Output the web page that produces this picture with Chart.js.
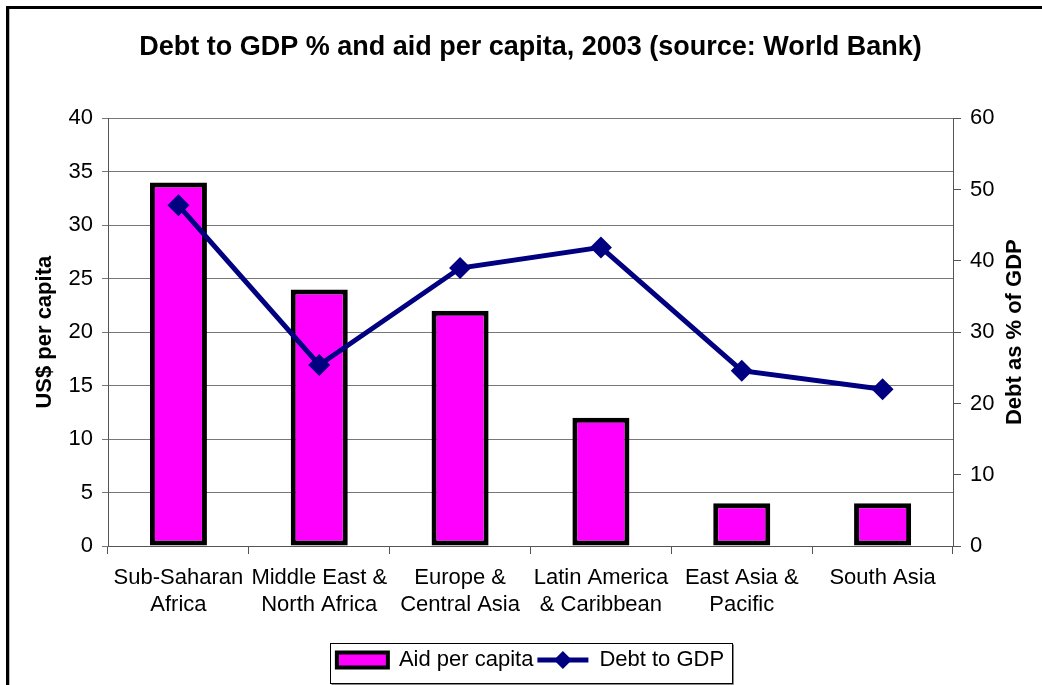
<!DOCTYPE html>
<html>
<head>
<meta charset="utf-8">
<script src="https://cdn.jsdelivr.net/npm/chart.js@4/dist/chart.umd.min.js"></script>
<style>
html,body{margin:0;padding:0;background:#fff;}
#wrap{position:relative;width:1042px;height:685px;}
</style>
</head>
<body>
<div id="wrap"><canvas id="c" width="1042" height="685"></canvas></div>
<script>
const categories = [["Sub-Saharan","Africa"],["Middle East &","North Africa"],["Europe &","Central Asia"],["Latin America","& Caribbean"],["East Asia &","Pacific"],["South Asia"]];
const aidPerCapita = [34, 24, 22, 12, 4, 4];
const debtToGDP = [47.8, 25.4, 39.0, 41.9, 24.6, 22.0];
const leftTicks = [0, 5, 10, 15, 20, 25, 30, 35, 40];
const rightTicks = [0, 10, 20, 30, 40, 50, 60];

const FONT = "'Liberation Sans', Arial, sans-serif";
const NAVY = '#000080';
const MAG = '#FF00FF';

const framePlugin = {
  id: 'frame',
  beforeDraw(chart) {
    const ctx = chart.ctx;
    ctx.save();
    ctx.fillStyle = '#fff';
    ctx.fillRect(0, 0, chart.width, chart.height);
    ctx.fillStyle = '#000';
    ctx.fillRect(6, 6, 3, chart.height);
    ctx.fillRect(6, 6, chart.width, 3);
    ctx.fillStyle = '#bbb';
    ctx.fillRect(9, 9, 1, chart.height);
    ctx.restore();
  },
  afterDraw(chart) {
    const ctx = chart.ctx;
    const lg = chart.legend;
    const boxes = lg.legendHitBoxes;
    if (boxes && boxes.length) {
      let minL = Infinity, maxR = -Infinity;
      boxes.forEach(b => { minL = Math.min(minL, b.left); maxR = Math.max(maxR, b.left + b.width); });
      const L = Math.round(minL) - 6.5, R = Math.round(maxR) + 8.5;
      const T = 643.5, B = 683.5;
      ctx.save();
      ctx.strokeStyle = '#888';
      ctx.lineWidth = 1;
      ctx.beginPath();
      ctx.moveTo(L + 1, B + 1); ctx.lineTo(R + 1, B + 1); ctx.lineTo(R + 1, T + 1);
      ctx.stroke();
      ctx.strokeStyle = '#000';
      ctx.strokeRect(L, T, R - L, B - T);
      // line sample for the line dataset
      const b = boxes[1];
      const bw = chart.options.plugins.legend.labels.boxWidth;
      const cy = b.top + b.height / 2;
      ctx.strokeStyle = NAVY;
      ctx.lineWidth = 5;
      ctx.beginPath();
      ctx.moveTo(b.left, cy); ctx.lineTo(b.left + bw, cy);
      ctx.stroke();
      ctx.fillStyle = NAVY;
      const mx = b.left + bw / 2, r = 9;
      ctx.beginPath();
      ctx.moveTo(mx, cy - r); ctx.lineTo(mx + r, cy); ctx.lineTo(mx, cy + r); ctx.lineTo(mx - r, cy);
      ctx.closePath(); ctx.fill();
      ctx.restore();
    }
    // right axis title (reads bottom to top)
    const ya = chart.scales.y2;
    ctx.save();
    ctx.translate(1015, (ya.top + ya.bottom) / 2);
    ctx.rotate(-Math.PI / 2);
    ctx.fillStyle = '#000';
    ctx.font = "bold 22px " + FONT;
    ctx.textAlign = 'center';
    ctx.textBaseline = 'middle';
    ctx.fillText('Debt as % of GDP', 0, 0);
    ctx.restore();
  }
};

new Chart(document.getElementById('c'), {
  data: {
    labels: categories,
    datasets: [
      {
        type: 'bar',
        label: 'Aid per capita',
        data: aidPerCapita,
        backgroundColor: MAG,
        borderColor: '#000',
        borderWidth: 5,
        borderSkipped: false,
        barPercentage: 0.405,
        categoryPercentage: 1,
        yAxisID: 'y',
        order: 2
      },
      {
        type: 'line',
        label: 'Debt to GDP',
        data: debtToGDP,
        borderColor: NAVY,
        backgroundColor: NAVY,
        borderWidth: 5,
        pointStyle: 'rectRot',
        pointRadius: 11,
        pointBackgroundColor: NAVY,
        pointBorderColor: NAVY,
        pointBorderWidth: 0,
        tension: 0,
        yAxisID: 'y2',
        order: 1
      }
    ]
  },
  options: {
    responsive: false,
    animation: false,
    devicePixelRatio: 1,
    layout: { padding: { left: 0, right: 0, top: 0, bottom: 4 } },
    plugins: {
      title: {
        display: true,
        fullSize: false,
        text: 'Debt to GDP % and aid per capita, 2003 (source: World Bank)',
        color: '#000',
        font: { family: FONT, size: 27, weight: 'bold', lineHeight: 1.2 },
        padding: { top: 31, bottom: 55 }
      },
      legend: {
        display: true,
        position: 'bottom',
        fullSize: false,
        labels: {
          color: '#000',
          font: { family: FONT, size: 22 },
          boxWidth: 51,
          boxHeight: 15,
          padding: 4,
          sort: (a, b) => a.datasetIndex - b.datasetIndex,
          generateLabels(chart) {
            return chart.data.datasets.map((ds, i) => ({
              text: ds.label,
              datasetIndex: i,
              fillStyle: i === 0 ? MAG : 'rgba(0,0,0,0)',
              strokeStyle: i === 0 ? '#000' : 'rgba(0,0,0,0)',
              lineWidth: i === 0 ? 4 : 0,
              fontColor: '#000',
              hidden: false
            }));
          }
        }
      },
      tooltip: { enabled: false }
    },
    scales: {
      x: {
        type: 'category',
        offset: true,
        grid: { offset: true, drawOnChartArea: false, drawTicks: true, tickLength: 8, color: '#555' },
        border: { color: '#555', width: 1 },
        ticks: { color: '#000', font: { family: FONT, size: 22, lineHeight: 1.227 }, padding: 10, maxRotation: 0, autoSkip: false },
        afterFit(s) { s.height = 99; }
      },
      y: {
        position: 'left',
        min: 0, max: 40,
        afterBuildTicks(s) { s.ticks = leftTicks.map(v => ({ value: v })); },
        grid: { color: '#777', lineWidth: 1, tickLength: 6, drawTicks: true },
        border: { color: '#555', width: 1 },
        ticks: { color: '#000', font: { family: FONT, size: 22 }, padding: 9 },
        title: { display: true, text: 'US$ per capita', color: '#000', font: { family: FONT, size: 22, weight: 'bold', lineHeight: 1.2 }, padding: { top: 32, bottom: 0 } },
        afterFit(s) { s.width = 108; }
      },
      y2: {
        position: 'right',
        min: 0, max: 60,
        afterBuildTicks(s) { s.ticks = rightTicks.map(v => ({ value: v })); },
        grid: { drawOnChartArea: false, tickLength: 8, color: '#555' },
        border: { color: '#555', width: 1 },
        ticks: { color: '#000', font: { family: FONT, size: 22 }, padding: 9 },
        afterFit(s) { s.width = 89; }
      }
    }
  },
  plugins: [framePlugin]
});
</script>
</body>
</html>
